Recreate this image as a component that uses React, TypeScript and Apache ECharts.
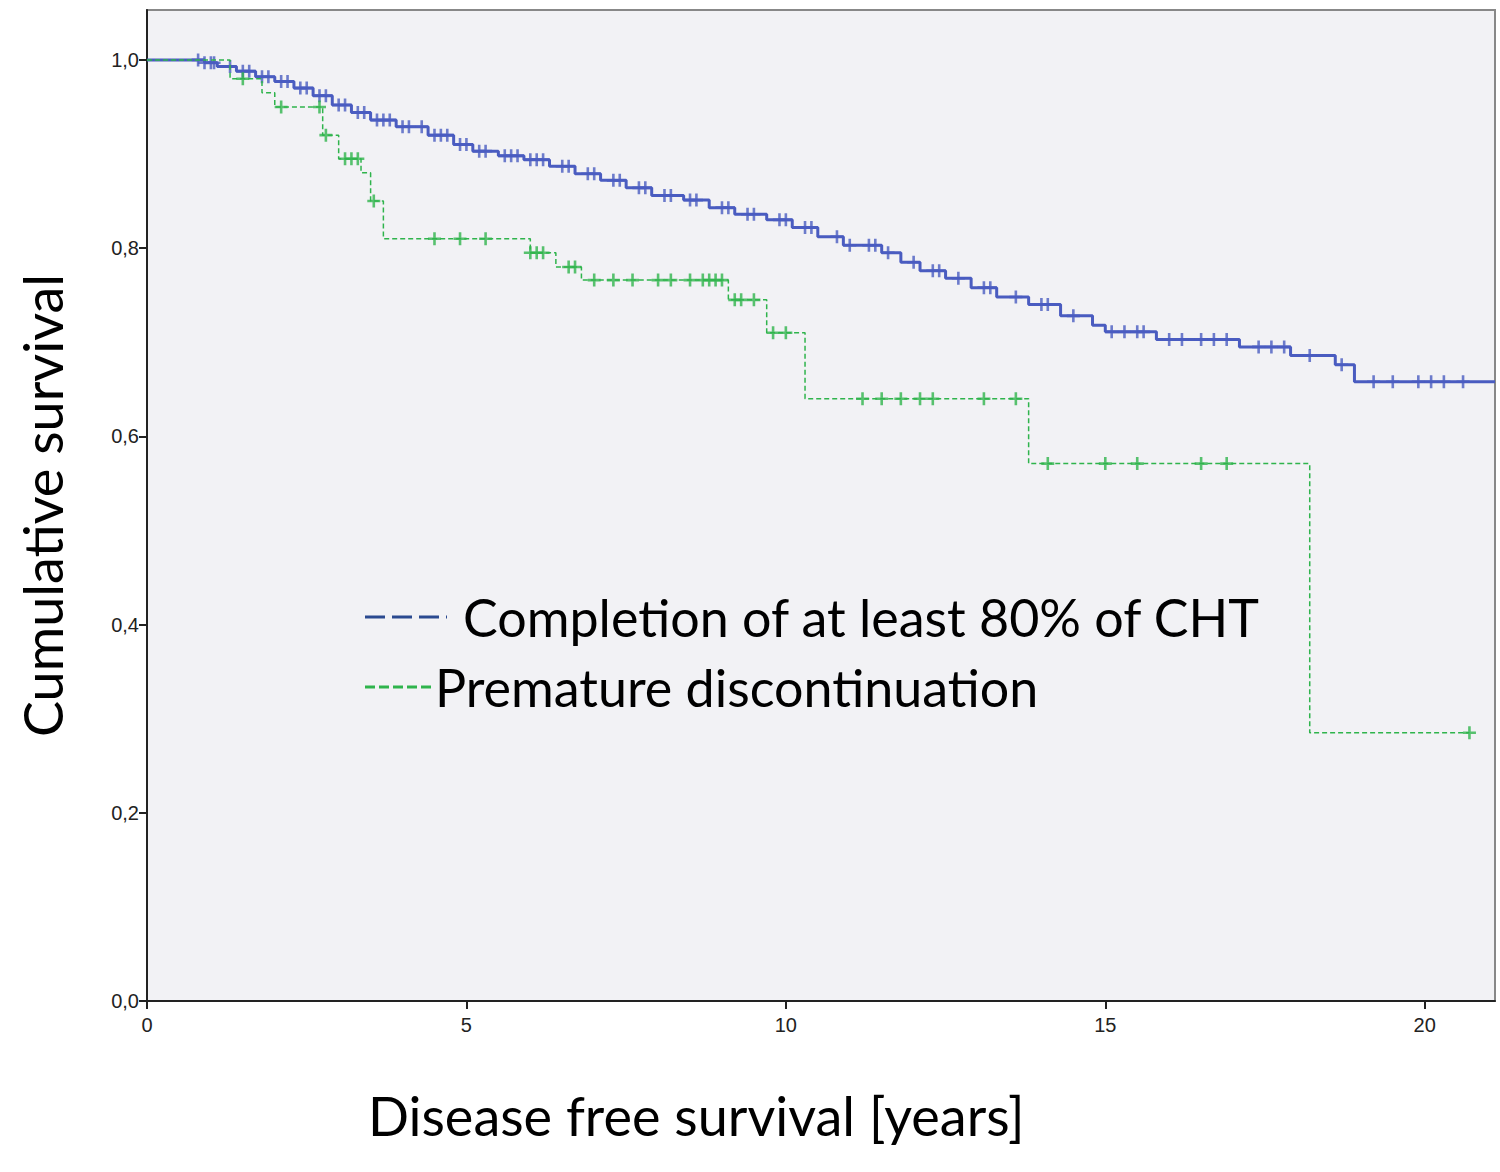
import React, { useEffect, useRef } from "react";
import * as echarts from "echarts";

// step curves: [time in years, survival after the drop at that time]
const blueSteps: number[][] = [
  [0, 1.0], [0.9, 0.997], [1.1, 0.993], [1.4, 0.988], [1.7, 0.982], [2.0, 0.977], [2.3, 0.97],
  [2.6, 0.962], [2.9, 0.952], [3.2, 0.944], [3.5, 0.936], [3.9, 0.929], [4.4, 0.92], [4.8, 0.91],
  [5.1, 0.903], [5.5, 0.898], [5.9, 0.894], [6.3, 0.887], [6.7, 0.879], [7.1, 0.872], [7.5, 0.864],
  [7.9, 0.856], [8.4, 0.851], [8.8, 0.843], [9.2, 0.836], [9.7, 0.83], [10.1, 0.822], [10.5, 0.812],
  [10.9, 0.803], [11.5, 0.795], [11.8, 0.785], [12.1, 0.776], [12.5, 0.768], [12.9, 0.758],
  [13.3, 0.748], [13.8, 0.74], [14.3, 0.728], [14.8, 0.718], [15.0, 0.711], [15.8, 0.703],
  [17.1, 0.695], [17.9, 0.686], [18.6, 0.676], [18.9, 0.658], [21.1, 0.658],
];
const greenSteps: number[][] = [
  [0, 1.0], [1.3, 0.98], [1.8, 0.965], [2.0, 0.95], [2.75, 0.92], [3.0, 0.895], [3.35, 0.88],
  [3.5, 0.85], [3.7, 0.81], [6.0, 0.795], [6.4, 0.78], [6.8, 0.766], [9.1, 0.745], [9.7, 0.71],
  [10.3, 0.64], [13.8, 0.571], [18.2, 0.285], [20.7, 0.285],
];
const blueCensored: number[] = [
  0.8, 0.9, 1.0, 1.05, 1.3, 1.5, 1.6, 1.8, 1.9, 2.1, 2.2, 2.4, 2.5, 2.7, 2.8, 3.0, 3.1, 3.3, 3.4,
  3.6, 3.7, 3.8, 4.0, 4.1, 4.3, 4.5, 4.6, 4.7, 4.9, 5.0, 5.2, 5.3, 5.6, 5.7, 5.8, 6.0, 6.1, 6.2,
  6.5, 6.6, 6.9, 7.0, 7.3, 7.4, 7.7, 7.8, 8.1, 8.2, 8.5, 8.6, 9.0, 9.1, 9.4, 9.5, 9.9, 10.0,
  10.3, 10.4, 10.8, 11.0, 11.3, 11.4, 11.6, 12.0, 12.3, 12.4, 12.7, 13.1, 13.2, 13.6, 14.0,
  14.1, 14.5, 15.1, 15.3, 15.5, 15.6, 16.0, 16.2, 16.5, 16.7, 16.9, 17.4, 17.6, 17.8, 18.2,
  18.7, 19.2, 19.5, 19.9, 20.1, 20.3, 20.6,
];
const greenCensored: number[] = [
  1.5, 2.1, 2.7, 2.8, 3.1, 3.2, 3.3, 3.55, 4.5, 4.9, 5.3, 6.0, 6.1, 6.2, 6.6, 6.7, 7.0, 7.3, 7.6,
  8.0, 8.2, 8.5, 8.7, 8.8, 8.9, 9.0, 9.2, 9.3, 9.5, 9.8, 10.0, 11.2, 11.5, 11.8, 12.1, 12.3, 13.1,
  13.6, 14.1, 15.0, 15.5, 16.5, 16.9, 20.7,
];

const BLUE = "#4a5cc0";
const GREEN = "#2fb44c";
const PLUS = "path://M4,0H6V4H10V6H6V10H4V6H0V4H4Z";

const valueAt = (steps: number[][], t: number) => {
  let v = steps[0][1];
  for (const s of steps) if (s[0] <= t) v = s[1];
  return v;
};

const App: React.FC = () => {
  const chartRef = useRef<HTMLDivElement>(null);

  useEffect(() => {
    const chart = echarts.init(chartRef.current!, undefined, { renderer: "svg" });
    const axisLabel = { fontSize: 20, color: "#222", fontFamily: "Liberation Sans" };
    const options = {
      animation: false,
      grid: { left: 147, top: 10, right: 5, bottom: 171, show: true, backgroundColor: "#f2f2f5", borderColor: "#888", borderWidth: 2 },
      xAxis: {
        type: "value", min: 0, max: 21.1, interval: 5,
        axisLine: { lineStyle: { color: "#222", width: 2 } },
        axisTick: { show: true, length: 8, lineStyle: { color: "#222", width: 2 } },
        axisLabel: { ...axisLabel, margin: 14, showMaxLabel: false },
        splitLine: { show: false },
      },
      yAxis: {
        type: "value", min: 0, max: 1.053, interval: 0.2,
        axisLine: { show: true, lineStyle: { color: "#222", width: 2 } },
        axisTick: { show: true, length: 8, lineStyle: { color: "#222", width: 2 } },
        axisLabel: { ...axisLabel, showMaxLabel: false, formatter: (v: number) => v.toFixed(1).replace(".", ",") },
        splitLine: { show: false },
        name: "Cumulative survival", nameLocation: "middle", nameGap: 78,
        nameTextStyle: { fontSize: 54, color: "#000", fontFamily: "Lato" },
      },
      series: [
        { type: "line", step: "end", data: greenSteps, symbol: "none", lineStyle: { color: GREEN, width: 1.5, type: [5, 3] }, z: 3 },
        { type: "line", step: "end", data: blueSteps, symbol: "none", lineStyle: { color: BLUE, width: 3 }, z: 2 },
        { type: "scatter", data: blueCensored.map((t) => [t, valueAt(blueSteps, t)]), symbol: PLUS, symbolSize: 13, itemStyle: { color: BLUE, opacity: 0.8 }, z: 2 },
        { type: "scatter", data: greenCensored.map((t) => [t, valueAt(greenSteps, t)]), symbol: PLUS, symbolSize: 13, itemStyle: { color: GREEN }, z: 3 },
      ],
      graphic: [
        { type: "text", x: 368, y: 1115, style: { text: "Disease free survival [years]", fontSize: 54, fontFamily: "Lato", fill: "#000", verticalAlign: "middle" } },
        { type: "line", shape: { x1: 365, y1: 617, x2: 447, y2: 617 }, style: { stroke: "#2b4a90", lineWidth: 3, lineDash: [20, 7] } },
        { type: "text", x: 463, y: 617, style: { text: "Completion of at least 80% of CHT", fontSize: 52, fontFamily: "Lato", fill: "#000", verticalAlign: "middle" } },
        { type: "line", shape: { x1: 365, y1: 687, x2: 432, y2: 687 }, style: { stroke: GREEN, lineWidth: 3, lineDash: [10, 4] } },
        { type: "text", x: 435, y: 687, style: { text: "Premature discontinuation", fontSize: 52, fontFamily: "Lato", fill: "#000", verticalAlign: "middle" } },
      ],
    };
    chart.setOption(options);
    return () => {
      chart.dispose();
    };
  }, []);

  return <div ref={chartRef} style={{ position: "absolute", left: 0, top: 0, width: 1500, height: 1172 }}></div>;
};

export default App;
